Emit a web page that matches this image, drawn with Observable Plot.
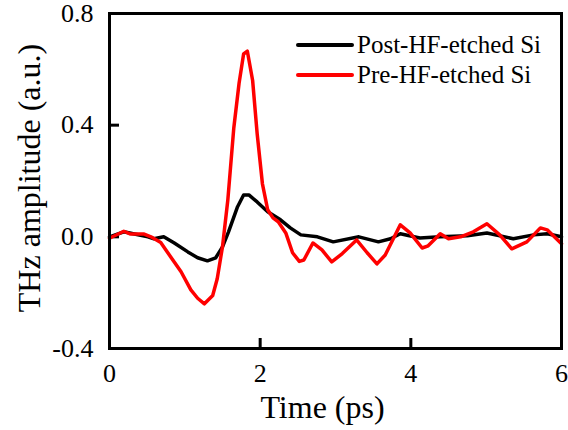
<!DOCTYPE html>
<html>
<head>
<meta charset="utf-8">
<script src="https://cdn.jsdelivr.net/npm/d3@7"></script>
<script src="https://cdn.jsdelivr.net/npm/@observablehq/plot@0.6"></script>
<style>
  html, body { margin: 0; padding: 0; background: #fff; }
  #wrap { position: relative; width: 568px; height: 430px; font-family: "Liberation Serif", "Times New Roman", serif; }
  #wrap svg text { font-family: "Liberation Serif", "Times New Roman", serif; fill: #000; }
  #legend { position: absolute; left: 296px; top: 30px; font-size: 25px; line-height: 30px; color: #000; }
  #legend div { display: flex; align-items: center; white-space: nowrap; }
  #legend span.sw { display: inline-block; width: 58px; height: 4px; margin-right: 3px; border-radius: 2px; }
</style>
</head>
<body>
<div id="wrap"></div>
<script>
const seriesNames = ["Post-HF-etched Si", "Pre-HF-etched Si"];
const seriesColors = ["#000000", "#ff0000"];

const timePost = [0, 0.19, 0.33, 0.51, 0.59, 0.72, 0.86, 1.04, 1.17, 1.30, 1.41, 1.50, 1.58, 1.70, 1.78, 1.85, 1.96, 2.10, 2.27, 2.40, 2.54, 2.76, 2.97, 3.31, 3.57, 3.73, 3.86, 4.12, 4.39, 4.75, 5.01, 5.36, 5.63, 5.81, 6.0];
const ampPost  = [0, 0.018, 0.01, 0, -0.007, 0, -0.022, -0.054, -0.075, -0.086, -0.075, -0.036, 0.018, 0.108, 0.15, 0.15, 0.125, 0.09, 0.061, 0.032, 0.007, 0.0, -0.018, 0.0, -0.018, -0.007, 0.011, -0.004, 0.0, 0.004, 0.014, -0.007, 0.007, 0.011, 0.0];

const timePre = [0, 0.19, 0.28, 0.46, 0.55, 0.68, 0.82, 0.95, 1.08, 1.17, 1.26, 1.37, 1.43, 1.50, 1.57, 1.65, 1.72, 1.78, 1.83, 1.90, 1.96, 2.03, 2.10, 2.17, 2.24, 2.34, 2.43, 2.52, 2.58, 2.70, 2.82, 2.95, 3.09, 3.28, 3.42, 3.55, 3.66, 3.86, 3.99, 4.15, 4.23, 4.39, 4.50, 4.66, 4.83, 5.01, 5.18, 5.34, 5.54, 5.72, 5.81, 6.0];
const ampPre  = [-0.005, 0.02, 0.01, 0.01, 0.0, -0.02, -0.075, -0.125, -0.19, -0.22, -0.24, -0.21, -0.15, -0.035, 0.13, 0.39, 0.55, 0.655, 0.665, 0.56, 0.37, 0.19, 0.097, 0.068, 0.054, 0.014, -0.057, -0.088, -0.083, -0.022, -0.047, -0.09, -0.06, -0.011, -0.057, -0.097, -0.065, 0.043, 0.014, -0.04, -0.032, 0.011, -0.007, 0.0, 0.018, 0.047, 0.007, -0.043, -0.018, 0.032, 0.025, -0.025];

const xTicks = [0, 2, 4, 6];
const yTicks = [-0.4, 0.0, 0.4, 0.8];

const data = [
  ...timePost.map((t, i) => ({t, a: ampPost[i], s: seriesNames[0]})),
  ...timePre.map((t, i) => ({t, a: ampPre[i], s: seriesNames[1]}))
];

const fmtY = d => d3.format(".1f")(d).replace("\u2212", "-");

const chart = Plot.plot({
  width: 568,
  height: 430,
  marginLeft: 109,
  marginRight: 7,
  marginTop: 13,
  marginBottom: 82,
  style: {fontFamily: '"Liberation Serif", "Times New Roman", serif', fontSize: "25px", color: "#000", background: "#fff", overflow: "visible"},
  x: {domain: [0, 6]},
  y: {domain: [-0.4, 0.8]},
  color: {domain: seriesNames, range: seriesColors},
  marks: [
    Plot.axisX({ticks: xTicks, tickSize: -10, tickPadding: 25, strokeWidth: 3, fontSize: 26, fill: "#000",
      label: null, tickFormat: d3.format("d")}),
    Plot.axisY({ticks: yTicks, tickSize: -10, tickPadding: 26, strokeWidth: 3, fontSize: 26, fill: "#000",
      label: null, tickFormat: fmtY}),
    Plot.text(["Time (ps)"], {frameAnchor: "bottom", dx: -13, dy: 59, fontSize: 32, fill: "#000", lineAnchor: "middle", textAnchor: "middle"}),
    Plot.text(["THz amplitude (a.u.)"], {frameAnchor: "left", dx: -80, dy: -3, rotate: -90, fontSize: 32, fill: "#000", lineAnchor: "middle", textAnchor: "middle"}),
    Plot.line(data, {x: "t", y: "a", z: "s", stroke: "s", strokeWidth: 3.5, curve: "linear", strokeLinejoin: "round"}),
    Plot.frame({stroke: "#000", strokeWidth: 3})
  ]
});

const wrap = document.getElementById("wrap");
wrap.appendChild(chart);
const legend = document.createElement("div");
legend.id = "legend";
seriesNames.forEach((n, i) => {
  const row = document.createElement("div");
  const sw = document.createElement("span");
  sw.className = "sw";
  sw.style.background = seriesColors[i];
  row.appendChild(sw);
  row.appendChild(document.createTextNode(n));
  legend.appendChild(row);
});
wrap.appendChild(legend);
</script>
</body>
</html>
